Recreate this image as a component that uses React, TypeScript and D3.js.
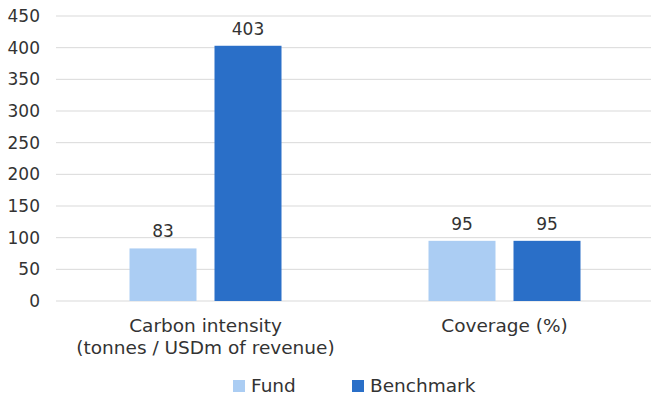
import React from "react";
import * as d3 from "d3";

const categories = ["Carbon intensity\n(tonnes / USDm of revenue)", "Coverage (%)"];
const seriesNames = ["Fund", "Benchmark"];
const fundValues = [83, 95];
const benchmarkValues = [403, 95];
const yTicks = [0, 50, 100, 150, 200, 250, 300, 350, 400, 450];
const colors = ["#abcdf3", "#2a6fc8"];

const W = 651, H = 401;
const M = { left: 56, right: -3, top: 16, bottom: 100 };

export default function App() {
  const x0 = d3.scaleBand().domain(categories).range([M.left, W - M.right]).paddingInner(0).paddingOuter(0);
  const y = d3.scaleLinear().domain([0, 450]).range([H - M.bottom, M.top]);
  const barW = 67, gap = 18;
  const series = [fundValues, benchmarkValues];
  const numFont = "'DejaVu Sans', sans-serif";
  const lblFont = "'DejaVu Sans', sans-serif";
  return (
    <div style={{ position: "absolute", left: 0, top: 0 }}>
      <svg width={W} height={H} style={{ display: "block", background: "#fff" }}>
        {yTicks.map((t) => (
          <g key={t}>
            <line x1={M.left} x2={W} y1={y(t)} y2={y(t)} stroke="#d9d9d9" strokeWidth={1} />
            <text x={40} y={y(t)} dy="0.36em" textAnchor="end" fontSize={17} fill="#333" fontFamily={numFont}>{t}</text>
          </g>
        ))}
        {categories.map((c, ci) => {
          const cx = x0(c)! + x0.bandwidth() / 2;
          const total = barW * 2 + gap;
          return (
            <g key={c}>
              {series.map((s, si) => {
                const bx = cx - total / 2 + si * (barW + gap);
                return (
                  <g key={si}>
                    <rect x={bx} y={y(s[ci])} width={barW} height={y(0) - y(s[ci])} fill={colors[si]} />
                    <text x={bx + barW / 2} y={y(s[ci]) - 11} textAnchor="middle" fontSize={17} fill="#333" fontFamily={numFont}>{s[ci]}</text>
                  </g>
                );
              })}
              {c.split("\n").map((line, li) => (
                <text key={li} x={cx} y={332 + li * 22} textAnchor="middle" fontSize={18.5} fill="#333" fontFamily={lblFont}>{line}</text>
              ))}
            </g>
          );
        })}
        {seriesNames.map((n, i) => {
          const lx = [233, 352][i];
          return (
            <g key={n}>
              <rect x={lx} y={380} width={12} height={12} fill={colors[i]} />
              <text x={lx + 18} y={392} fontSize={18.5} fill="#333" fontFamily={lblFont}>{n}</text>
            </g>
          );
        })}
      </svg>
    </div>
  );
}
